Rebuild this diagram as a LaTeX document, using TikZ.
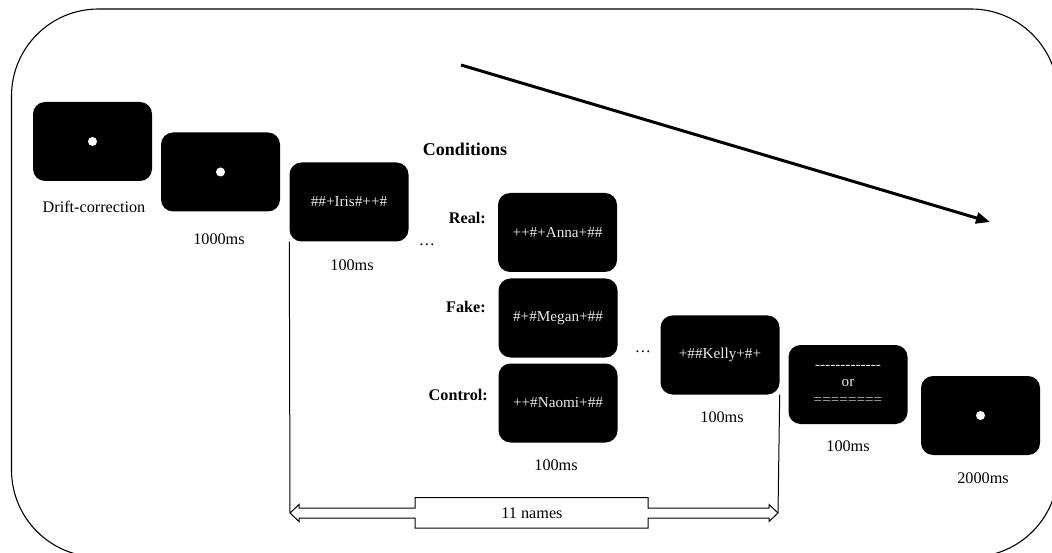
\documentclass[tikz,border=0pt]{standalone}
\usepackage{fontspec}
\setmainfont{Liberation Serif}
\usetikzlibrary{arrows.meta}
\newcommand\hyp{-\kern0pt}
\begin{document}
\begin{tikzpicture}[x=1pt,y=-1pt,
  screen/.style={fill=black, rounded corners=12pt, minimum width=119pt, minimum height=79pt, inner sep=0pt, text=white!92!black, font=\fontsize{15.2}{17.5}\selectfont, align=center},
  lbl/.style={font=\fontsize{16.2}{19}\selectfont, inner sep=0pt},
  cond/.style={font=\fontsize{16.2}{19}\selectfont\bfseries, inner sep=0pt, anchor=east},
  fixdot/.style={circle, fill=white, minimum size=9pt, inner sep=0pt},
  conn/.style={line width=1pt},
]
\useasboundingbox (0,0) rectangle (1052,553);
\draw[line width=1.1pt, rounded corners=87pt] (11.5,9) rectangle (1058,557);

% screens
\node[screen] (s1) at (92.5,141.5) {};
\node[fixdot] (d1) at (s1.center) {};
\node[screen] (s2) at (220.5,172) {};
\node[fixdot] (d2) at (s2.center) {};
\node[screen] (s3) at (349,202) {\#\#+Iris\#++\#};
\node[screen] (s4) at (557.5,232.5) {++\#+Anna+\#\#};
\node[screen] (s5) at (558,318) {\#+\#Megan+\#\#};
\node[screen] (s6) at (558,403) {++\#Naomi+\#\#};
\node[screen] (s7) at (720,355) {+\#\#Kelly+\#+};
\node[screen] (s8) at (848,384.5) {\hyp\hyp\hyp\hyp\hyp\hyp\hyp\hyp\hyp\hyp\hyp\hyp\hyp\\or\\{\color{white!75!black}========}};
\node[screen] (s9) at (980.5,415.5) {};
\node[fixdot] (d9) at (s9.center) {};

% labels
\node[lbl] (t1) at (94,207) {Drift-correction};
\node[lbl] (t2) at (219,239) {1000ms};
\node[lbl] (t3) at (352,265) {100ms};
\node[font=\fontsize{18}{21}\selectfont\bfseries, inner sep=0pt] (cond) at (465,149) {Conditions};
\node[cond] (real) at (486,218) {Real:};
\node[cond] (fake) at (486,307) {Fake:};
\node[cond] (ctrl) at (488,395) {Control:};
\node[lbl] (el1) at (427,245) {…};
\node[lbl] (el2) at (643,352) {…};
\node[lbl] (t4) at (556,465) {100ms};
\node[lbl] (t5) at (722,417) {100ms};
\node[lbl] (t6) at (848,446) {100ms};
\node[lbl] (t7) at (983,478) {2000ms};

% 11 names bracket
\coordinate (L) at (290,513);
\coordinate (R) at (778,513);
\draw[conn] (s3.south west) -- (L);
\draw[conn] (s7.south east) -- (R);
\draw[line width=1pt, fill=white, line join=miter] (L) -- ++(9,-8.5) -- ++(0,3.5) -- (415,508) -- (415,497.5) -- (648,497.5) -- (648,508) -- (769,508) -- ++(0,-3.5) -- (R) -- ++(-9,8.5) -- ++(0,-3.5) -- (648,518) -- (648,528) -- (415,528) -- (415,518) -- (299,518) -- ++(0,3.5) -- cycle;
\node[lbl] (names) at (532,513) {11 names};

% time arrow
\coordinate (a1) at (461,65);
\coordinate (a2) at (990,222);
\draw[line width=3pt, -{Triangle[length=14pt,width=11pt]}] (a1) -- (a2);
\end{tikzpicture}
\end{document}
